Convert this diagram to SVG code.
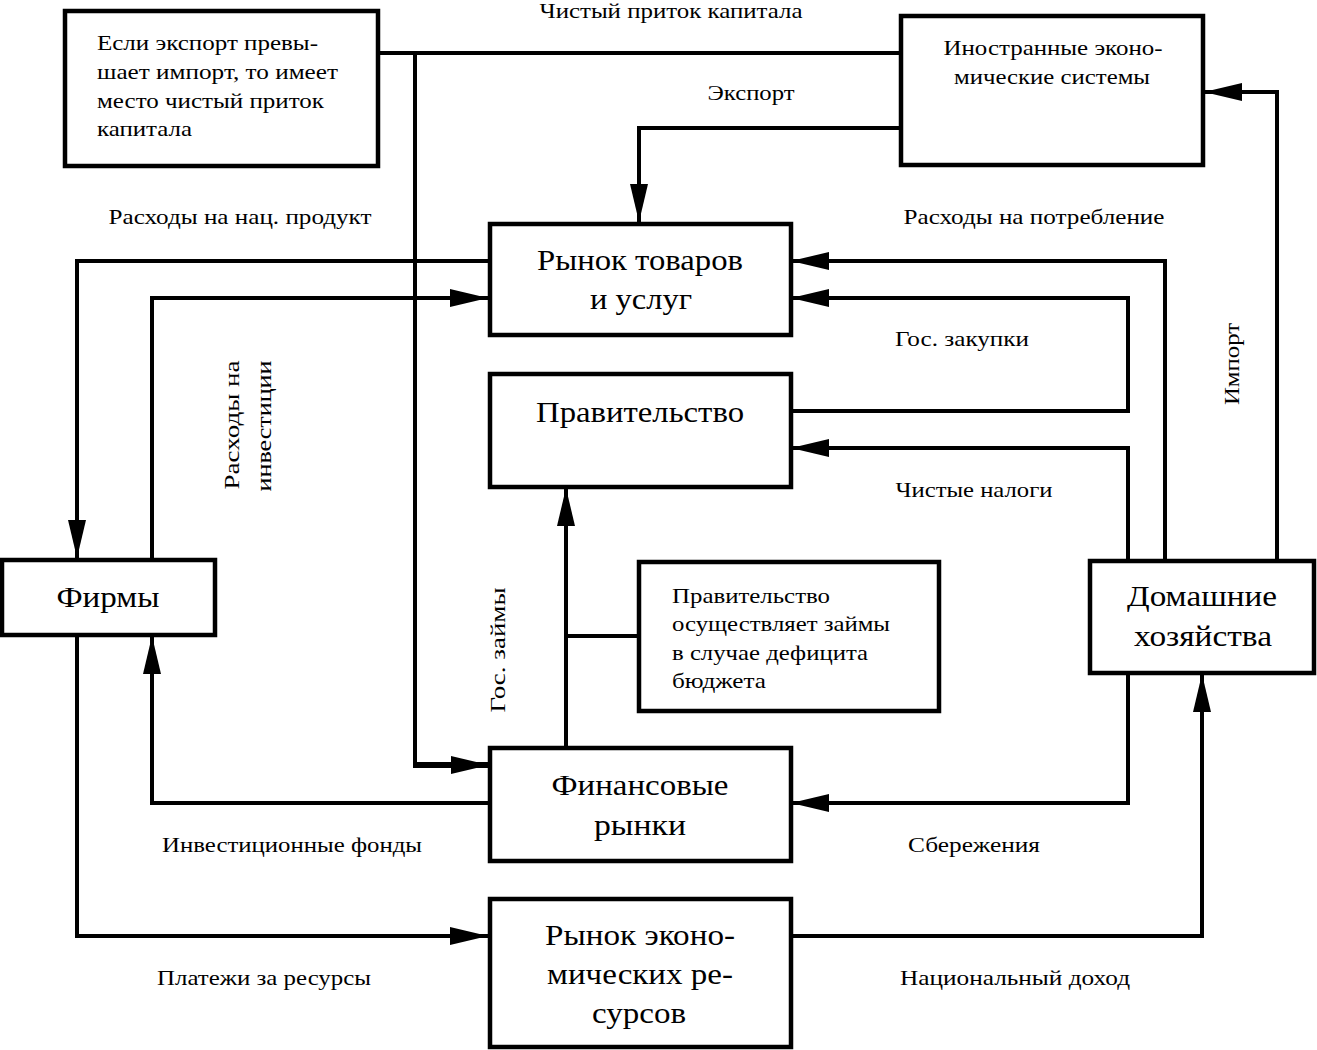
<svg xmlns="http://www.w3.org/2000/svg" width="1317" height="1050" viewBox="0 0 1317 1050">
<style>
.box{fill:#fff;stroke:#000;stroke-width:4.5}
.c{fill:none;stroke:#000;stroke-width:4;stroke-linejoin:miter}
.a{marker-end:url(#arr)}
text{font-family:"Liberation Serif","Times New Roman",serif;fill:#000;font-size:22px}
.m{text-anchor:middle}
.b{font-size:30px}
</style>
<defs>
<marker id="arr" viewBox="0 0 38 18" refX="38" refY="9" markerWidth="38" markerHeight="18" markerUnits="userSpaceOnUse" orient="auto">
<path d="M0,0 L38,9 L0,18 Z" fill="#000"/>
</marker>
</defs>
<rect width="1317" height="1050" fill="#fff"/>

<g id="connectors">
<path class="c" d="M378,53 H901"/>
<path class="c" d="M415,53 V765"/>
<path class="c a" d="M413,765 H489" style="stroke-width:6"/>
<path class="c a" d="M901,128 H639 V222"/>
<path class="c a" d="M489,261 H77 V558"/>
<path class="c a" d="M152,560 V298 H488"/>
<path class="c a" d="M1165,561 V261 H791"/>
<path class="c a" d="M790,411 H1128 V298 H791"/>
<path class="c a" d="M1128,561 V448 H791"/>
<path class="c a" d="M1277,561 V92 H1204"/>
<path class="c a" d="M566,748 V488"/>
<path class="c" d="M639,636 H566"/>
<path class="c a" d="M489,803 H152 V636"/>
<path class="c a" d="M1128,672 V803 H791"/>
<path class="c a" d="M77,635 V936 H488"/>
<path class="c a" d="M790,936 H1202 V674"/>
</g>

<g id="labels">
<text class="m" x="671" y="18" textLength="263" lengthAdjust="spacingAndGlyphs">Чистый приток капитала</text>
<text class="m" x="751" y="100" textLength="87" lengthAdjust="spacingAndGlyphs">Экспорт</text>
<text class="m" x="240" y="224" textLength="263" lengthAdjust="spacingAndGlyphs">Расходы на нац. продукт</text>
<text class="m" x="1034" y="224" textLength="261" lengthAdjust="spacingAndGlyphs">Расходы на потребление</text>
<text class="m" x="962" y="346" textLength="134" lengthAdjust="spacingAndGlyphs">Гос. закупки</text>
<text class="m" x="974" y="497" textLength="157" lengthAdjust="spacingAndGlyphs">Чистые налоги</text>
<text class="m" transform="translate(1239,364) rotate(-90)" textLength="82" lengthAdjust="spacingAndGlyphs">Импорт</text>
<text class="m" transform="translate(239,425) rotate(-90)" textLength="129" lengthAdjust="spacingAndGlyphs">Расходы на</text>
<text class="m" transform="translate(271,426) rotate(-90)" textLength="131" lengthAdjust="spacingAndGlyphs">инвестиции</text>
<text class="m" transform="translate(505,650) rotate(-90)" textLength="125" lengthAdjust="spacingAndGlyphs">Гос. займы</text>
<text class="m" x="292" y="852" textLength="260" lengthAdjust="spacingAndGlyphs">Инвестиционные фонды</text>
<text class="m" x="974" y="852" textLength="132" lengthAdjust="spacingAndGlyphs">Сбережения</text>
<text class="m" x="264" y="985" textLength="214" lengthAdjust="spacingAndGlyphs">Платежи за ресурсы</text>
<text class="m" x="1015" y="985" textLength="230" lengthAdjust="spacingAndGlyphs">Национальный доход</text>
</g>

<g id="note-capital">
<rect class="box" x="65" y="11" width="313" height="155"/>
<text x="97" y="50" textLength="221" lengthAdjust="spacingAndGlyphs">Если экспорт превы-</text>
<text x="97" y="79" textLength="241" lengthAdjust="spacingAndGlyphs">шает импорт, то имеет</text>
<text x="97" y="108" textLength="227" lengthAdjust="spacingAndGlyphs">место чистый приток</text>
<text x="97" y="136" textLength="95" lengthAdjust="spacingAndGlyphs">капитала</text>
</g>

<g id="foreign">
<rect class="box" x="901" y="16" width="302" height="149"/>
<text class="m" x="1053" y="55" textLength="219" lengthAdjust="spacingAndGlyphs">Иностранные эконо-</text>
<text class="m" x="1052" y="84" textLength="196" lengthAdjust="spacingAndGlyphs">мические системы</text>
</g>

<g id="goods-market">
<rect class="box" x="490" y="224" width="301" height="111"/>
<text class="m b" x="640" y="270" textLength="206" lengthAdjust="spacingAndGlyphs">Рынок товаров</text>
<text class="m b" x="641" y="309" textLength="102" lengthAdjust="spacingAndGlyphs">и услуг</text>
</g>

<g id="government">
<rect class="box" x="490" y="374" width="301" height="113"/>
<text class="m b" x="640" y="422" textLength="208" lengthAdjust="spacingAndGlyphs">Правительство</text>
</g>

<g id="firms">
<rect class="box" x="2" y="560" width="213" height="75"/>
<text class="m b" x="108" y="607" textLength="103" lengthAdjust="spacingAndGlyphs">Фирмы</text>
</g>

<g id="note-deficit">
<rect class="box" x="639" y="562" width="300" height="149"/>
<text x="672" y="603" textLength="158" lengthAdjust="spacingAndGlyphs">Правительство</text>
<text x="672" y="631" textLength="218" lengthAdjust="spacingAndGlyphs">осуществляет займы</text>
<text x="672" y="660" textLength="196" lengthAdjust="spacingAndGlyphs">в случае дефицита</text>
<text x="672" y="688" textLength="94" lengthAdjust="spacingAndGlyphs">бюджета</text>
</g>

<g id="households">
<rect class="box" x="1090" y="561" width="224" height="112"/>
<text class="m b" x="1202" y="606" textLength="150" lengthAdjust="spacingAndGlyphs">Домашние</text>
<text class="m b" x="1203" y="646" textLength="138" lengthAdjust="spacingAndGlyphs">хозяйства</text>
</g>

<g id="financial-markets">
<rect class="box" x="490" y="748" width="301" height="113"/>
<text class="m b" x="640" y="795" textLength="177" lengthAdjust="spacingAndGlyphs">Финансовые</text>
<text class="m b" x="640" y="835" textLength="92" lengthAdjust="spacingAndGlyphs">рынки</text>
</g>

<g id="resource-market">
<rect class="box" x="490" y="899" width="301" height="148"/>
<text class="m b" x="640" y="945" textLength="190" lengthAdjust="spacingAndGlyphs">Рынок эконо-</text>
<text class="m b" x="640" y="984" textLength="186" lengthAdjust="spacingAndGlyphs">мических ре-</text>
<text class="m b" x="639" y="1023" textLength="94" lengthAdjust="spacingAndGlyphs">сурсов</text>
</g>
</svg>
